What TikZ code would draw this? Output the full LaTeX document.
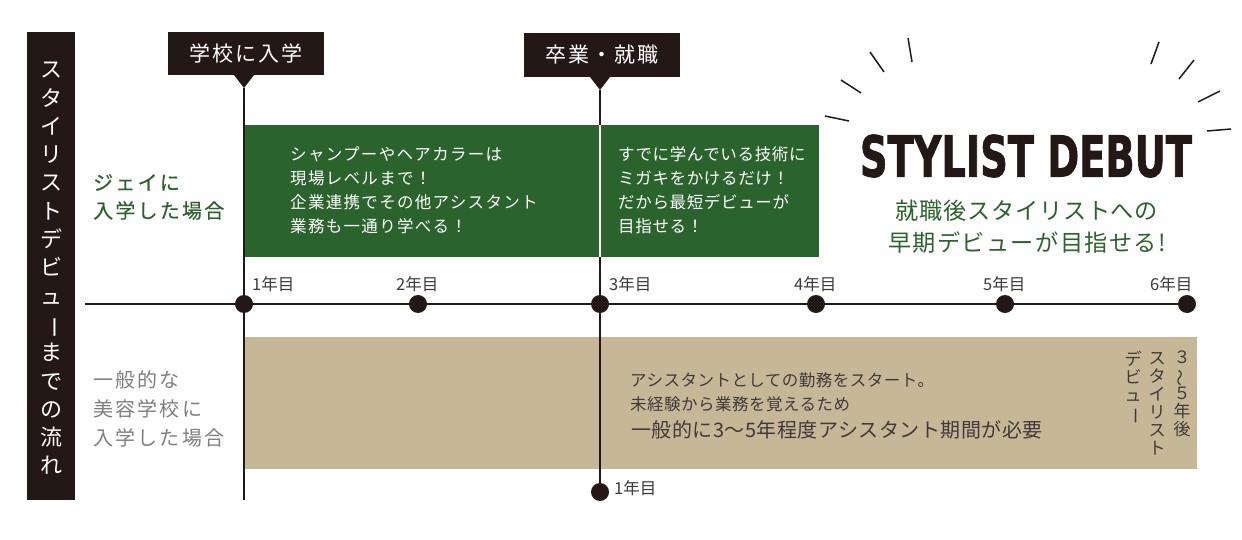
\documentclass[tikz,border=0pt]{standalone}
\usepackage{fontspec}
\usetikzlibrary{calc}
\setmainfont{Noto Sans CJK JP}
\newfontfamily\headfont[FakeBold=1.6]{DejaVu Sans Bold}
\definecolor{ink}{HTML}{231815}
\definecolor{gr}{HTML}{2A632B}
\definecolor{tan}{HTML}{C6B897}
\definecolor{gtext}{HTML}{7F7F7F}
\definecolor{btext}{HTML}{3E3A39}
\newcommand{\fs}[2]{\fontsize{#1}{#2}\selectfont}
\newcommand{\vbar}{\rotatebox[origin=c]{-90}{ー}}
\newcommand{\vwave}{\rotatebox[origin=c]{90}{～}}
\tikzset{
 panel/.style={anchor=north west,inner sep=0pt,outer sep=0pt,draw=none},
 tagbox/.style={fill=ink,text=white,inner sep=0pt,outer sep=0pt,minimum width=156pt,minimum height=43pt,font=\fs{21}{24}\addfontfeature{LetterSpace=10}},
 dot/.style={circle,fill=ink,inner sep=0pt,minimum size=18pt,outer sep=0pt},
 tick/.style={anchor=west,inner sep=0pt,text=btext,font=\fs{16.5}{18}},
 side/.style={anchor=west,inner sep=0pt,align=left},
 vtext/.style={anchor=north,inner sep=0pt,align=center,text=btext,font=\fs{17}{18}},
 bline/.style={draw=ink,line width=2pt},
 ray/.style={draw=ink,line width=1.5pt},
 body/.style={anchor=west,inner sep=0pt,align=left,text=white,font=\fs{16.5}{24}\addfontfeature{LetterSpace=8}},
}
\begin{document}
\begin{tikzpicture}[x=1pt,y=-1pt]
\useasboundingbox (0,0) rectangle (1242,540);
% panels
\node[panel,fill=gr,minimum width=574pt,minimum height=132pt] (green) at (245,125) {};
\node[panel,fill=tan,minimum width=952pt,minimum height=132pt] (tanp) at (245,337) {};
\node[panel,fill=ink,minimum width=48pt,minimum height=468pt] (bar) at (27,32) {};
\node[inner sep=0pt,align=center,text=white,font=\fs{22}{28.3}] (bart) at (51,268.5) {ス\\タ\\イ\\リ\\ス\\ト\\デ\\ビ\\ュ\\\vbar\\ま\\で\\の\\流\\れ};
% tags
\node[tagbox] (tag1) at (246,54) {\raisebox{-1.5pt}{学校に入学}};
\node[tagbox,minimum height=44pt] (tag2) at (602,55) {\raisebox{-1pt}{卒業・就職}};
\coordinate (tip1) at (244,88);
\coordinate (tip2) at (600,90);
\fill[ink] (234,75) -- (tip1) -- (254,75) -- cycle;
\fill[ink] (590,77) -- (tip2) -- (610,77) -- cycle;
% dots and lines
\coordinate (axisL) at (85,304);
\coordinate (end1) at (244,500);
\node[dot] (d1) at (244,304) {};
\node[dot] (d2) at (418,304) {};
\node[dot] (d3) at (600,304) {};
\node[dot] (d4) at (816,304) {};
\node[dot] (d5) at (1005,304) {};
\node[dot] (d6) at (1187,304) {};
\node[dot] (d7) at (600,492) {};
\draw[bline] (axisL) -- (d6.center);
\draw[bline] (tip1) -- (end1);
\draw[bline] (tip2) -- (d7.center);
\coordinate (wa) at (600,125);
\coordinate (wb) at (600,257);
\draw[draw=white,line width=2pt] (wa) -- (wb);
% tick labels
\node[tick] (l1) at (252,284) {1年目};
\node[tick] (l2) at (396,284) {2年目};
\node[tick] (l3) at (609,284) {3年目};
\node[tick] (l4) at (794,284) {4年目};
\node[tick] (l5) at (983,284) {5年目};
\node[tick] (l6) at (1150,284) {6年目};
\node[tick] (l7) at (614,488.5) {1年目};
% side labels
\node[side,text=gr,font=\fs{20}{28}\addfontfeature{LetterSpace=11,FakeBold=0.5}] (jei) at (93,197) {ジェイに\\入学した場合};
\node[side,text=gtext,font=\fs{20}{29}\addfontfeature{LetterSpace=11}] (ippan) at (93,409) {一般的な\\美容学校に\\入学した場合};
% body text
\node[body] (b1) at (290,190) {シャンプーやヘアカラーは\\現場レベルまで！\\企業連携でその他アシスタント\\業務も一通り学べる！};
\node[body,font=\fs{16.5}{24}\addfontfeature{LetterSpace=4}] (b2) at (618,190) {すでに学んでいる技術に\\ミガキをかけるだけ！\\だから最短デビューが\\目指せる！};
% tan text
\node[anchor=west,inner sep=0pt,align=left,text=btext,font=\fs{16.5}{24}\addfontfeature{LetterSpace=3}] (t1) at (630,392) {アシスタントとしての勤務をスタート。\\未経験から業務を覚えるため};
\node[anchor=west,inner sep=0pt,text=btext,font=\fs{20}{24}\addfontfeature{LetterSpace=2.5}] (t2) at (631,430) {一般的に3〜5年程度アシスタント期間が必要};
\node[vtext] (v1) at (1182,351) {３\\\vwave\\５\\年\\後};
\node[vtext] (v2) at (1157,352) {ス\\タ\\イ\\リ\\ス\\ト};
\node[vtext] (v3) at (1133,351) {デ\\ビ\\ュ\\\vbar};
% headline
\node[inner sep=0pt,text=ink] (head) at (1026,156) {\resizebox{332pt}{42pt}{\headfont STYLIST DEBUT}};
\node[anchor=center,inner sep=0pt,align=center,text=gr,font=\fs{23.2}{32}\addfontfeature{LetterSpace=3}] (sub) at (1027,227) {就職後スタイリストへの\\{\addfontfeature{LetterSpace=6}早期デビューが目指せる!}};
% rays
\draw[ray] (825,116) -- (849,121);
\draw[ray] (841,80) -- (861,93);
\draw[ray] (870,52) -- (884,72);
\draw[ray] (908,38) -- (912,62);
\draw[ray] (1159,42) -- (1151,64);
\draw[ray] (1194,60) -- (1179,79);
\draw[ray] (1220,91) -- (1198,102);
\draw[ray] (1231,129) -- (1207,131);
\end{tikzpicture}
\end{document}
